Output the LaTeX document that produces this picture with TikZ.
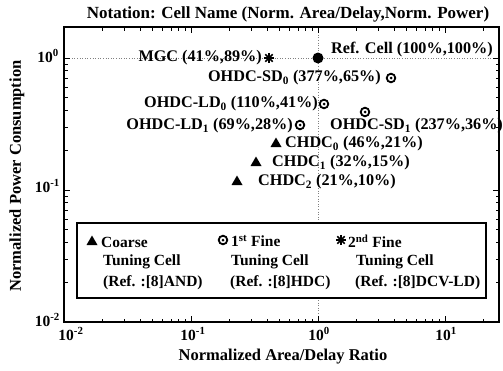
\documentclass[tikz,border=0pt]{standalone}
\usepackage{fontspec}
\setmainfont{Liberation Serif}
\begin{document}
\begin{tikzpicture}[x=1pt,y=-1pt,
  lbl/.style={font=\fontsize{16.2}{18}\selectfont\bfseries, inner sep=0pt},
  leg/.style={font=\fontsize{15.5}{18}\selectfont\bfseries, inner sep=0pt, anchor=west},
  ticklbl/.style={font=\fontsize{15.5}{17}\selectfont\bfseries, inner sep=0pt},
  axtitle/.style={font=\fontsize{16.5}{18}\selectfont\bfseries, inner sep=0pt},
  guide/.style={gray, dotted, line width=0.6pt},
  frame/.style={line width=1.4pt},
  tk/.style={line width=0.7pt},
  tri/.pic={\fill (-5.5,4) -- (5.5,4) -- (0,-5.5) -- cycle;},
  odot/.pic={\draw[line width=1.8pt] (0,0) circle (4.3pt); \fill (0,0) circle (1.5pt);},
  astar/.pic={\foreach \a in {0,45,90,135} \draw[line width=1.7pt] (\a:5.2pt) -- (\a+180:5.2pt);}
]
\useasboundingbox (0,0) rectangle (503,370);
% guides
\draw[guide] (64,58) -- (499,58);
\draw[guide] (318,27) -- (318,322);
% frame
\draw[frame] (64,27) rectangle (499,322);
% x ticks
\foreach \d in {0,1,2,3} {
  \pgfmathsetmacro\xm{64+127*\d}
  \draw[tk] (\xm,322) -- (\xm,316);
  \draw[tk] (\xm,27) -- (\xm,33);
  \foreach \k in {2,...,9} {
    \pgfmathsetmacro\xx{64+127*(\d+log10(\k))}
    \pgfmathparse{\xx<497 ? 1 : 0}
    \ifnum\pgfmathresult=1
      \draw[tk] (\xx,322) -- (\xx,318.5);
      \draw[tk] (\xx,27) -- (\xx,30.5);
    \fi
  }
}
% y ticks
\foreach \d in {0,1} {
  \pgfmathsetmacro\ym{58+132*\d}
  \draw[tk] (64,\ym) -- (70,\ym);
  \draw[tk] (499,\ym) -- (493,\ym);
  \foreach \k in {2,...,9} {
    \pgfmathsetmacro\yy{58+132*(\d+1-log10(\k))}
    \draw[tk] (64,\yy) -- (67.5,\yy);
    \draw[tk] (499,\yy) -- (495.5,\yy);
  }
}
\foreach \k in {2,...,9} {
  \pgfmathsetmacro\yy{58+132*(0-log10(\k))}
  \pgfmathparse{\yy>29 ? 1 : 0}
  \ifnum\pgfmathresult=1
    \draw[tk] (64,\yy) -- (67.5,\yy);
    \draw[tk] (499,\yy) -- (495.5,\yy);
  \fi
}
% tick labels
\node[ticklbl, anchor=east] (y0) at (59,56) {10\textsuperscript{0}};
\node[ticklbl, anchor=east] (y1) at (60,186) {10\textsuperscript{-1}};
\node[ticklbl, anchor=east] (y2) at (60,320) {10\textsuperscript{-2}};
\node[ticklbl] (x2) at (71,334) {10\textsuperscript{-2}};
\node[ticklbl] (x1) at (193,334) {10\textsuperscript{-1}};
\node[ticklbl] (x0) at (319,334) {10\textsuperscript{0}};
\node[ticklbl] (x10) at (446,334) {10\textsuperscript{1}};
% titles
\node[axtitle, font=\fontsize{17}{19}\selectfont\bfseries] (title) at (288,14) {Notation: Cell Name (Norm. Area/Delay,Norm. Power)};
\node[axtitle] (xlab) at (283,357) {Normalized Area/Delay Ratio};
\node[axtitle, rotate=90] (ylab) at (17,176) {Normalized Power Consumption};
% data markers
\fill (318,58) circle (5.5pt);
\pic at (269,58) {astar};
\pic at (391,78) {odot};
\pic at (324,104) {odot};
\pic at (365,112) {odot};
\pic at (300,125) {odot};
\pic at (276,143) {tri};
\pic at (256,162) {tri};
\pic at (237,181) {tri};
% data labels
\node[lbl, anchor=east] (mgc) at (262,58) {MGC (41\%,89\%)};
\node[lbl, anchor=west] (ref) at (331,50) {Ref. Cell (100\%,100\%)};
\node[lbl, anchor=east] (sd0) at (381,78) {OHDC-SD\textsubscript{0} (377\%,65\%)};
\node[lbl, anchor=east] (ld0) at (318,104) {OHDC-LD\textsubscript{0} (110\%,41\%)};
\node[lbl, anchor=west] (sd1) at (330,126) {OHDC-SD\textsubscript{1} (237\%,36\%)};
\node[lbl, anchor=east] (ld1) at (293,126) {OHDC-LD\textsubscript{1} (69\%,28\%)};
\node[lbl, anchor=west] (c0) at (285,144) {CHDC\textsubscript{0} (46\%,21\%)};
\node[lbl, anchor=west] (c1) at (272,163) {CHDC\textsubscript{1} (32\%,15\%)};
\node[lbl, anchor=west] (c2) at (258,182) {CHDC\textsubscript{2} (21\%,10\%)};
% legend
\draw[frame, fill=white] (77,223) rectangle (486,298);
\pic at (92,241) {tri};
\node[leg] (l1a) at (101,242) {Coarse};
\node[leg] (l1b) at (103,262) {Tuning Cell};
\node[leg] (l1c) at (103,283) {(Ref. :[8]AND)};
\pic at (223,240) {odot};
\node[leg] (l2a) at (231,241) {1\textsuperscript{st} Fine};
\node[leg] (l2b) at (231,262) {Tuning Cell};
\node[leg] (l2c) at (230,283) {(Ref. :[8]HDC)};
\pic at (341,240) {astar};
\node[leg] (l3a) at (348,241) {2\textsuperscript{nd} Fine};
\node[leg] (l3b) at (356,262) {Tuning Cell};
\node[leg] (l3c) at (355,283) {(Ref. :[8]DCV-LD)};
\end{tikzpicture}
\end{document}
